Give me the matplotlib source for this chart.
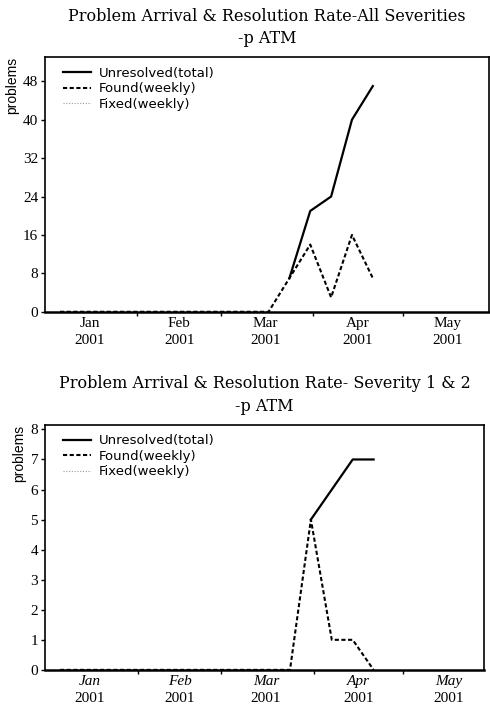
"""Problem arrival & resolution rate for -p ATM: all severities vs severity 1 & 2."""

import matplotlib
matplotlib.use("Agg")
import matplotlib.pyplot as plt
import numpy as np

# weekly sample dates (2001)
WEEKS = ["2001-01-06", "2001-01-13", "2001-01-20", "2001-01-27",
         "2001-02-03", "2001-02-10", "2001-02-17", "2001-02-24",
         "2001-03-03", "2001-03-10", "2001-03-17", "2001-03-24",
         "2001-03-31", "2001-04-07", "2001-04-14", "2001-04-21"]
nan = np.nan

# all severities
ALL_UNRESOLVED = [nan, nan, nan, nan, nan, nan, nan, nan,
                  nan, nan, nan, 7, 21, 24, 40, 47]
ALL_FOUND = [0, 0, 0, 0, 0, 0, 0, 0, 0, 0, 0, 7, 14, 3, 16, 7]
ALL_FIXED = [0, 0, 0, 0, 0, 0, 0, 0, 0, 0, 0, 0, 0, 0, 0, 0]

# severity 1 & 2
SEV_UNRESOLVED = [nan, nan, nan, nan, nan, nan, nan, nan,
                  nan, nan, nan, nan, 5, 6, 7, 7]
SEV_FOUND = [0, 0, 0, 0, 0, 0, 0, 0, 0, 0, 0, 0, 5, 1, 1, 0]
SEV_FIXED = [0, 0, 0, 0, 0, 0, 0, 0, 0, 0, 0, 0, 0, 0, 0, 0]

MONTHS = ["Jan", "Feb", "Mar", "Apr", "May"]
MONTH_STARTS = ["2001-02-01", "2001-03-01", "2001-04-01", "2001-05-01"]
MONTH_MIDS = ["2001-01-16", "2001-02-15", "2001-03-16", "2001-04-16", "2001-05-16"]

TSERIF = "DejaVu Serif"
SERIF = "Liberation Serif"
SANS = "DejaVu Sans"

weeks = np.array(WEEKS, dtype="datetime64[D]")


def panel(ax, title, unresolved, found, fixed, yticks, ymax, xmax, italic):
    ax.plot(weeks, fixed, color="#999999", lw=0.8, ls=(0, (1, 1.5)), label="Fixed(weekly)", zorder=2)
    ax.plot(weeks, found, color="black", lw=1.5, ls=(0, (2, 1.2)), label="Found(weekly)", zorder=3)
    ax.plot(weeks, unresolved, color="black", lw=1.6, label="Unresolved(total)", zorder=4)
    h, l = ax.get_legend_handles_labels()
    ax.legend(h[::-1], l[::-1], loc="upper left", frameon=False, prop={"family": SANS, "size": 9.5},
              handlelength=2.1, handletextpad=0.6, labelspacing=0.2,
              borderaxespad=0.3, bbox_to_anchor=(0.02, 1.0))

    ax.set_xlim(np.datetime64("2001-01-01"), np.datetime64(xmax))
    ax.set_ylim(0, ymax)
    ax.set_yticks(yticks)
    for t in ax.get_yticklabels():
        t.set_family(SERIF)
        t.set_fontsize(11)
    ax.tick_params(axis="y", length=3, width=1, pad=2)

    # month boundaries: small ticks; month names at mid-month
    ax.set_xticks(np.array(MONTH_STARTS, dtype="datetime64[D]"))
    ax.set_xticklabels([])
    ax.tick_params(axis="x", which="major", length=3, width=1)
    mids = np.array(MONTH_MIDS, dtype="datetime64[D]")
    ax.set_xticks(mids, minor=True)
    ax.set_xticklabels(MONTHS, minor=True, family=SERIF, fontsize=11,
                       style="italic" if italic else "normal")
    ax.tick_params(axis="x", which="minor", length=0, pad=4)
    sec = ax.secondary_xaxis("bottom")
    sec.set_xticks(mids)
    sec.set_xticklabels(["2001"] * len(MONTHS), family=SERIF, fontsize=11)
    sec.tick_params(length=0, pad=16)
    sec.spines["bottom"].set_visible(False)

    ax.set_ylabel("problems", family="Liberation Sans", fontsize=10, loc="top", labelpad=3)
    for s in ax.spines.values():
        s.set_linewidth(1.2)
    ax.spines["bottom"].set_linewidth(1.8)
    ax.set_title(title, family=TSERIF, fontsize=11.5, linespacing=1.45, pad=10)


fig = plt.figure(figsize=(4.9, 7.07), dpi=100)
ax1 = fig.add_axes([0.092, 0.559, 0.906, 0.360])
ax2 = fig.add_axes([0.092, 0.0525, 0.896, 0.3465])

panel(ax1, "Problem Arrival & Resolution Rate-All Severities\n-p ATM",
      ALL_UNRESOLVED, ALL_FOUND, ALL_FIXED, [0, 8, 16, 24, 32, 40, 48], 53, "2001-05-30", False)
panel(ax2, "Problem Arrival & Resolution Rate- Severity 1 & 2\n-p ATM",
      SEV_UNRESOLVED, SEV_FOUND, SEV_FIXED, [0, 1, 2, 3, 4, 5, 6, 7, 8], 8.15, "2001-05-28", True)

fig.savefig("out.png", dpi=100)
plt.close(fig)
